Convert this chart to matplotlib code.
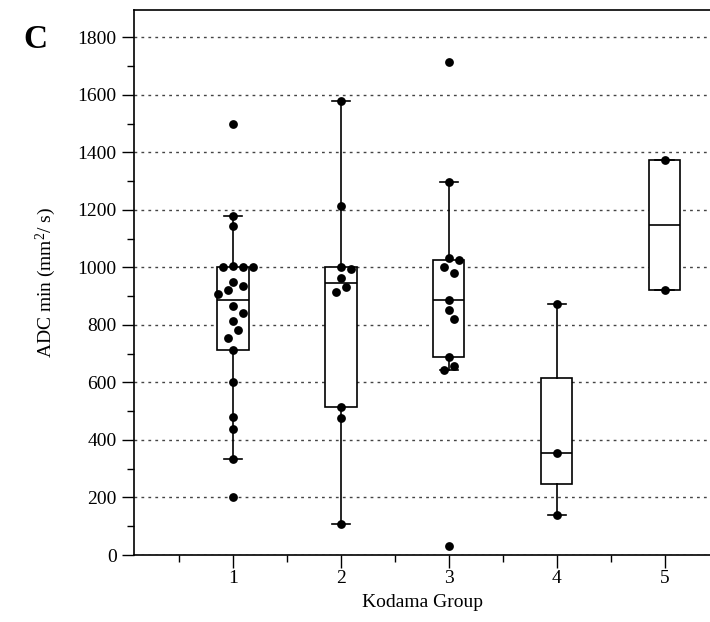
#!/usr/bin/env python3
# ADC min by Kodama group: box plot with swarm of individual cases.
import numpy as np
import matplotlib
matplotlib.use("Agg")  # headless
import matplotlib.pyplot as plt
from matplotlib.ticker import MultipleLocator

# data
groups = [1, 2, 3, 4, 5]
group_labels = ["1", "2", "3", "4", "5"]
adc_g1 = [1500, 1180, 1145, 1005, 1003, 1000, 1000, 950, 936, 921, 908,
          865, 840, 813, 781, 753, 713, 600, 480, 438, 334, 200]
adc_g2 = [1578, 1213, 1002, 994, 963, 931, 915, 515, 477, 109]
adc_g3 = [1715, 1298, 1031, 1026, 1002, 980, 886, 852, 820, 690, 658, 642, 33]
adc_g4 = [874, 354, 139]
adc_g5 = [1373, 922]

# box statistics as drawn in the reference
box_q1 = [713, 515, 690, 246, 922]
box_med = [886, 946, 886, 354, 1149]
box_q3 = [1000, 1001, 1024, 614, 1373]
whisk_lo = [334, 109, 642, 139, 922]
whisk_hi = [1180, 1578, 1298, 874, 1373]

plt.rcParams["font.family"] = ["Liberation Serif", "DejaVu Serif"]
plt.rcParams["mathtext.fontset"] = "custom"
plt.rcParams["mathtext.rm"] = "Liberation Serif"
plt.rcParams["mathtext.it"] = "Liberation Serif:italic"

fig = plt.figure(figsize=(7.10, 6.22), dpi=100)
ax = fig.add_axes([134 / 710, 67 / 622, 576 / 710, 545 / 622])
ax.set_xlim(0.083, 5.42)
ax.set_ylim(0, 1895)

# grid first so the white boxes sit on top of it
ax.set_axisbelow(True)
ax.yaxis.set_major_locator(MultipleLocator(200))
ax.yaxis.set_minor_locator(MultipleLocator(100))
ax.grid(axis="y", which="major", color="#444444", lw=1.0,
        linestyle=(0, (2, 3)))

stats = []
for i in range(len(groups)):
    stats.append(dict(med=box_med[i], q1=box_q1[i], q3=box_q3[i],
                      whislo=whisk_lo[i], whishi=whisk_hi[i], fliers=[]))

line = dict(color="black", lw=1.2)
ax.bxp(stats, positions=groups, widths=0.29, capwidths=0.17,
       showfliers=False, patch_artist=True,
       boxprops=dict(facecolor="white", edgecolor="black", lw=1.2),
       medianprops=line, whiskerprops=line, capprops=line, zorder=2)


def swarm(vals, x0, diam=9.5, step=5.0):
    # simple beeswarm in pixel space
    tr = ax.transData
    placed = []
    out_x = []
    for v in vals:
        px, py = tr.transform((x0, v))
        k = 0
        while True:
            off = ((k + 1) // 2) * step * (1 if k % 2 == 1 else -1)
            cx = px + off
            if all(np.hypot(cx - qx, py - qy) >= diam for qx, qy in placed):
                break
            k += 1
        placed.append((cx, py))
        out_x.append(tr.inverted().transform((cx, py))[0])
    return out_x


for g, vals in zip(groups, [adc_g1, adc_g2, adc_g3, adc_g4, adc_g5]):
    xs = swarm(vals, g)
    ax.scatter(xs, vals, s=40, color="black", zorder=4, linewidths=0)

ax.set_xticks(groups)
ax.set_xticklabels(group_labels)
ax.set_xticks([0.5, 1.5, 2.5, 3.5, 4.5], minor=True)

ax.tick_params(axis="both", which="major", direction="out", length=9,
               width=1.0, labelsize=14, colors="black")
ax.tick_params(axis="both", which="minor", direction="out", length=5,
               width=1.0)
ax.tick_params(axis="x", which="major", pad=2)

for side in ["left", "top", "bottom"]:
    ax.spines[side].set_linewidth(1.2)
ax.spines["right"].set_visible(False)

ax.set_xlabel("Kodama Group", fontsize=14, labelpad=5)
ax.set_ylabel(r"ADC min (mm$^{2}$/ s)", fontsize=14, labelpad=14)

fig.text(35 / 710, 1 - 40 / 622, "C", fontsize=24, fontweight="bold",
         ha="center", va="center")

fig.savefig("out.png", dpi=100)
